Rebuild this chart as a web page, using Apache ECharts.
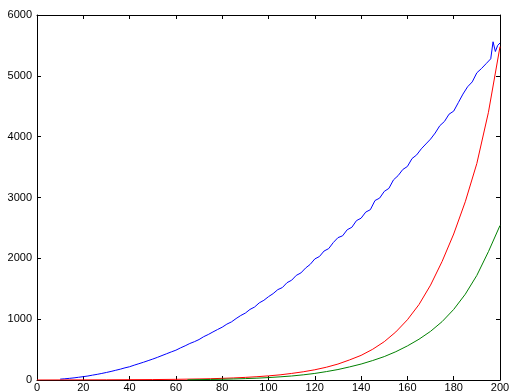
<!DOCTYPE html>
<html>
<head>
<meta charset="utf-8">
<script src="https://cdn.jsdelivr.net/npm/echarts@6/dist/echarts.min.js"></script>
<style>
  html, body { margin: 0; padding: 0; background: #fff; }
  #chart { width: 509px; height: 392px; }
</style>
</head>
<body>
<div id="chart"></div>
<script>
// x ticks / y ticks
const xTicks = [0, 20, 40, 60, 80, 100, 120, 140, 160, 180, 200];
const yTicks = [0, 1000, 2000, 3000, 4000, 5000, 6000];

// blue (noisy)
const blueX = [10, 12, 14, 16, 18, 20, 22, 24, 26, 28, 30, 32, 34, 36, 38, 40, 42, 44, 46, 48,
    50, 52, 54, 56, 58, 60, 62, 64, 66, 68, 70, 72, 74, 76, 78, 80, 82, 84, 86, 88,
    90, 92, 94, 96, 98, 100, 102, 104, 106, 108, 110, 112, 114, 116, 118, 120, 122, 124, 126, 128,
    130, 132, 134, 136, 138, 140, 142, 144, 146, 148, 150, 152, 154, 156, 158, 160, 162, 164, 166, 168,
    170, 172, 174, 176, 178, 180, 182, 184, 186, 188, 190, 192, 194, 196, 197, 198, 199, 200];
const blueY = [14, 20, 27, 35, 45, 55, 66, 80, 93, 108, 124, 141, 160, 178, 200, 218, 244, 268, 292, 318,
    344, 372, 402, 432, 462, 490, 528, 562, 600, 630, 665, 712, 748, 790, 830, 868, 918, 955, 1010, 1060,
    1100, 1160, 1200, 1268, 1310, 1370, 1420, 1485, 1520, 1600, 1640, 1720, 1760, 1840, 1900, 1990, 2030, 2120, 2160, 2260,
    2340, 2370, 2470, 2510, 2620, 2660, 2760, 2800, 2950, 2990, 3100, 3150, 3290, 3360, 3460, 3510, 3640, 3700, 3800, 3880,
    3960, 4060, 4180, 4250, 4370, 4420, 4560, 4700, 4820, 4900, 5050, 5120, 5200, 5280, 5560, 5400, 5500, 5540];

// red
const redX = [0, 10, 20, 30, 40, 50, 60, 70, 75, 80, 85, 90, 95, 100, 105, 110, 115, 120, 125, 130,
    135, 140, 145, 150, 155, 160, 165, 170, 175, 180, 185, 190, 195, 200];
const redY = [0, 1, 2, 3, 5, 7, 11, 17, 21, 27, 34, 43, 54, 68, 85, 108, 135, 168, 210, 262,
    330, 405, 505, 630, 790, 990, 1240, 1560, 1950, 2400, 2930, 3560, 4400, 5480];

// green
const greenX = [65, 70, 75, 80, 85, 90, 95, 100, 105, 110, 115, 120, 125, 130, 135, 140, 145, 150, 155, 160,
    165, 170, 175, 180, 185, 190, 195, 200];
const greenY = [3, 6, 9, 12, 17, 23, 30, 40, 52, 66, 85, 108, 138, 172, 215, 262, 320, 385, 465, 560,
    670, 800, 960, 1160, 1410, 1720, 2110, 2540];

const pairs = (xs, ys) => xs.map((x, i) => [x, ys[i]]);

const myChart = echarts.init(document.getElementById('chart'));

const axisCommon = {
    type: 'value',
    axisLine: { show: true, onZero: false, lineStyle: { color: '#000', width: 1 } },
    axisTick: { show: true, inside: true, length: 4, lineStyle: { color: '#000', width: 1 } },
    splitLine: { show: false },
};
const labelStyle = {
    color: '#000',
    fontSize: 11,
    fontFamily: 'Liberation Sans, Arial, sans-serif',
    formatter: (v) => String(v),
};

myChart.setOption({
    animation: false,
    backgroundColor: '#fff',
    grid: { left: 37, right: 9, top: 15, bottom: 12, outerBoundsMode: 'none', containLabel: false },
    xAxis: [
        Object.assign({}, axisCommon, {
            position: 'bottom', min: xTicks[0], max: xTicks[xTicks.length - 1], interval: 20,
            axisLabel: Object.assign({ margin: 2 }, labelStyle),
        }),
        Object.assign({}, axisCommon, {
            position: 'top', min: xTicks[0], max: xTicks[xTicks.length - 1], interval: 20,
            axisLabel: { show: false },
        }),
    ],
    yAxis: [
        Object.assign({}, axisCommon, {
            position: 'left', min: yTicks[0], max: yTicks[yTicks.length - 1], interval: 1000,
            axisLabel: Object.assign({ margin: 5 }, labelStyle),
        }),
        Object.assign({}, axisCommon, {
            position: 'right', min: yTicks[0], max: yTicks[yTicks.length - 1], interval: 1000,
            axisLabel: { show: false },
        }),
    ],
    series: [
        {
            type: 'line', data: pairs(blueX, blueY), showSymbol: false, symbol: 'none',
            lineStyle: { color: '#0000ff', width: 1 }, xAxisIndex: 0, yAxisIndex: 0,
        },
        {
            type: 'line', data: pairs(redX, redY), showSymbol: false, symbol: 'none',
            lineStyle: { color: '#ff0000', width: 1 }, xAxisIndex: 0, yAxisIndex: 0,
        },
        {
            type: 'line', data: pairs(greenX, greenY), showSymbol: false, symbol: 'none',
            lineStyle: { color: '#008000', width: 1 }, xAxisIndex: 0, yAxisIndex: 0,
        },
    ],
});
</script>
</body>
</html>
